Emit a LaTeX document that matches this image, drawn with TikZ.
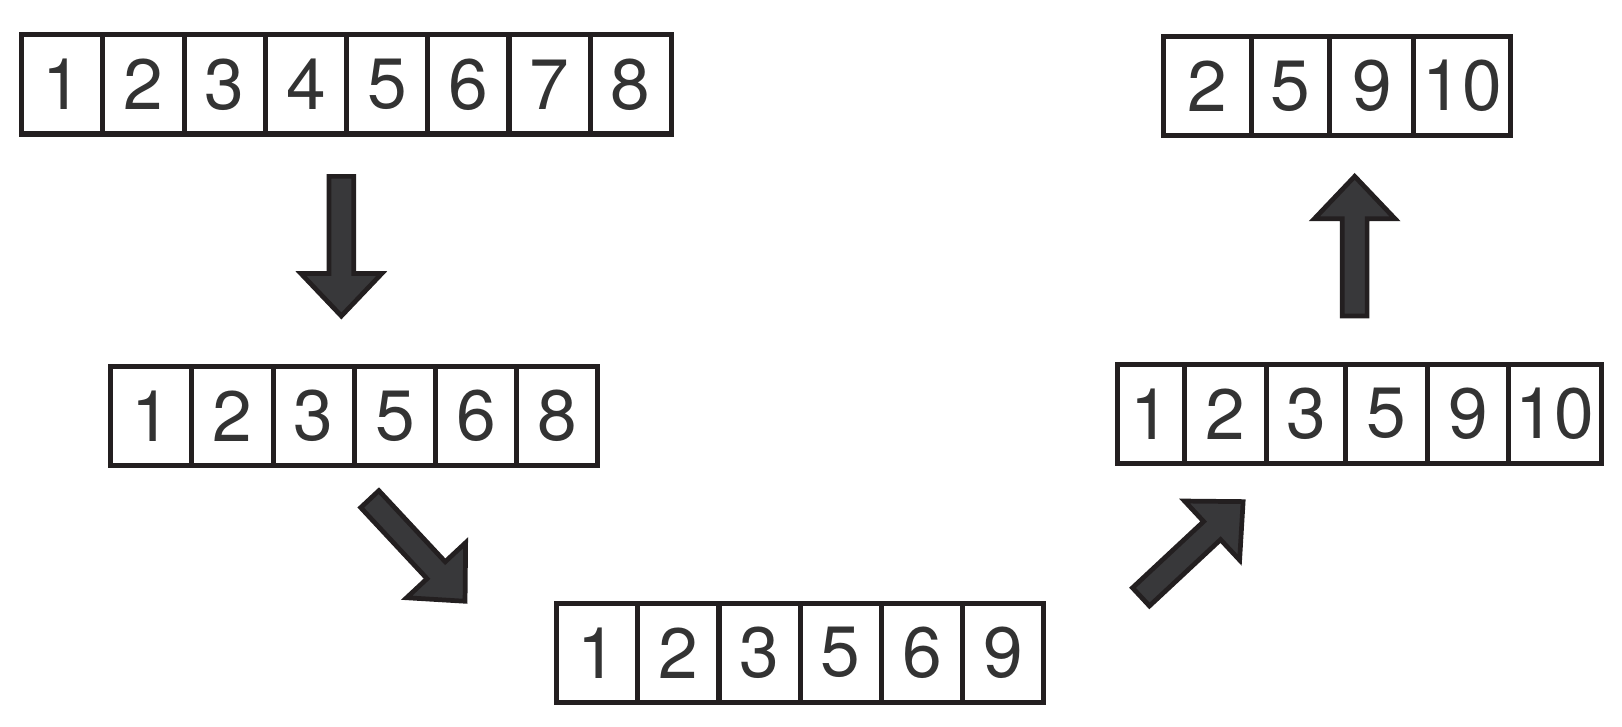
\documentclass[tikz,border=0pt]{standalone}
\usepackage{fontspec}
\setmainfont{TeX Gyre Heros}
\definecolor{linegray}{HTML}{231F20}
\definecolor{digitgray}{HTML}{333333}
\definecolor{arrowgray}{HTML}{38383A}
\newcommand{\fatarrow}{(0,-12) -- (94,-12) -- (94,-39) -- (135,0) -- (94,39) -- (94,12) -- (0,12) -- cycle}

\begin{document}
\begin{tikzpicture}[x=0.01cm, y=0.01cm]
\tikzstyle{every node}=[draw=linegray, line width=1.4pt, shape=rectangle, minimum width=0.785cm, minimum height=0.96cm, inner sep=0pt, outer sep=0pt, text=digitgray, font=\fontsize{19.6}{20}\selectfont];
\tikzstyle{bigarrow}=[draw=linegray, fill=arrowgray, line width=1.3pt, line join=miter];
\useasboundingbox (0,0) rectangle (1568,702);
% first list
\node (a1) at (60.25,620.5) {1};
\node (a2) at (138.75,620.5) {2};
\node (a3) at (217.25,620.5) {3};
\node (a4) at (295.75,620.5) {4};
\node (a5) at (374.25,620.5) {5};
\node (a6) at (452.75,620.5) {6};
\node (a7) at (531.25,620.5) {7};
\node (a8) at (609.75,620.5) {8};
% second list
\node (b1) at (146.25,300) {1};
\node (b2) at (224.75,300) {2};
\node (b3) at (303.25,300) {3};
\node (b4) at (381.75,300) {5};
\node (b5) at (460.25,300) {6};
\node (b6) at (538.75,300) {8};
% third list
\node (c1) at (577.25,71) {1};
\node (c2) at (655.75,71) {2};
\node (c3) at (734.25,71) {3};
\node (c4) at (812.75,71) {5};
\node (c5) at (891.25,71) {6};
\node (c6) at (969.75,71) {9};
% fourth list
\node [minimum width=0.65cm] (d1) at (1112.5,302) {1};
\node [minimum width=0.79cm] (d2) at (1184.5,302) {2};
\node [minimum width=0.77cm] (d3) at (1262.5,302) {3};
\node [minimum width=0.79cm] (d4) at (1340.5,302) {5};
\node [minimum width=0.78cm] (d5) at (1419,302) {9};
\node [minimum width=0.90cm] (d6) at (1503,302) {10};
% result
\node [minimum width=0.845cm] (e1) at (1167.25,619) {2};
\node [minimum width=0.761cm] (e2) at (1247.55,619) {5};
\node [minimum width=0.812cm] (e3) at (1326.2,619) {9};
\node [minimum width=0.932cm] (e4) at (1413.4,619) {10};
% arrows
\draw [bigarrow, shift={(330,531.5)}, rotate=-90] \fatarrow;
\draw [bigarrow, shift={(357.5,219.5)}, rotate=-47] \fatarrow;
\draw [bigarrow, shift={(1103,125)}, rotate=43] \fatarrow;
\draw [bigarrow, shift={(1309.6,396.5)}, rotate=90] \fatarrow;
\end{tikzpicture}
\end{document}
